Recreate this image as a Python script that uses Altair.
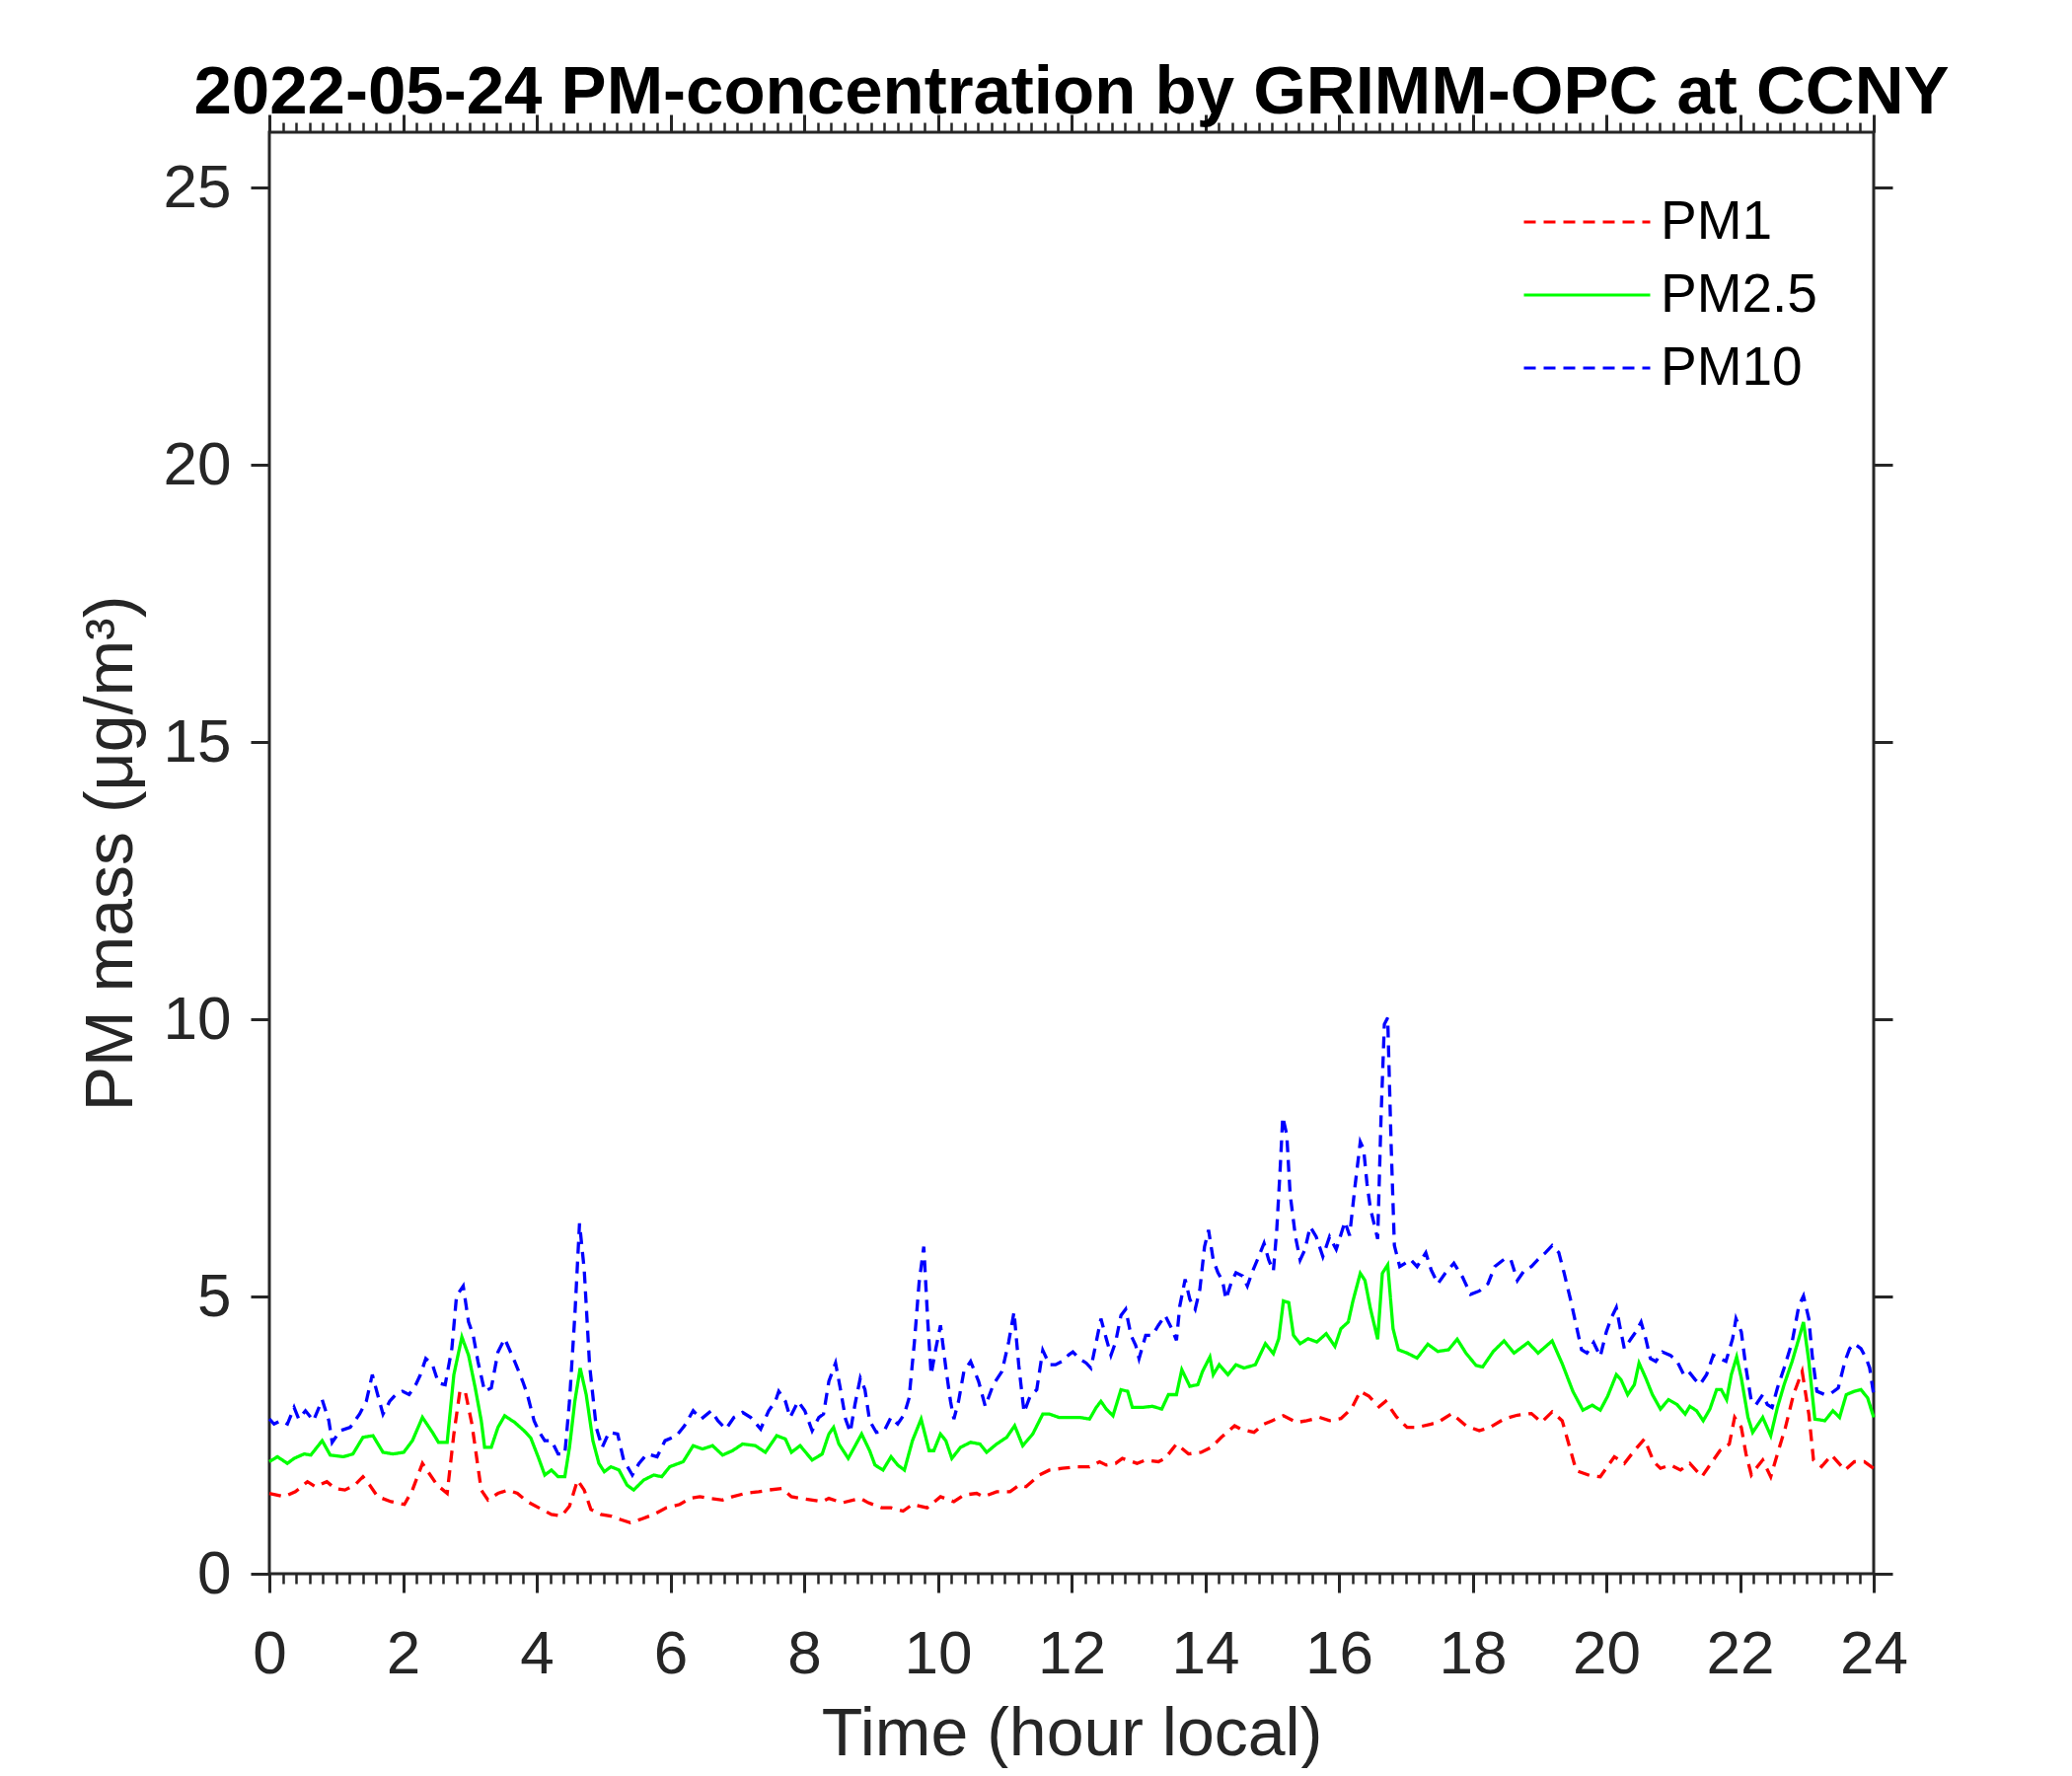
import altair as alt
import pandas as pd

# ---------------- data ----------------
pm1_hours = [0.00, 0.22, 0.39, 0.57, 0.69, 0.86, 0.98, 1.13, 1.28, 1.40, 1.50, 1.62, 1.82, 2.02, 2.14, 2.29,
             2.39, 2.51, 2.66, 2.76, 2.85, 2.93, 3.03, 3.17, 3.27, 3.42, 3.57, 3.71, 3.86, 4.03, 4.22, 4.37,
             4.49, 4.61, 4.71, 4.81, 4.96, 5.11, 5.25, 5.40, 5.55, 5.75, 5.94, 6.14, 6.29, 6.44, 6.58, 6.78,
             6.93, 7.12, 7.32, 7.47, 7.67, 7.81, 7.96, 8.27, 8.37, 8.57, 8.84, 8.96, 9.16, 9.30, 9.48, 9.62,
             9.84, 10.04, 10.24, 10.39, 10.58, 10.68, 10.88, 11.08, 11.22, 11.32, 11.52, 11.67, 11.86, 12.07,
             12.27, 12.42, 12.52, 12.66, 12.76, 12.98, 13.11, 13.30, 13.40, 13.57, 13.75, 13.94, 14.09, 14.24,
             14.44, 14.53, 14.73, 14.88, 15.00, 15.17, 15.37, 15.52, 15.71, 15.86, 16.03, 16.19, 16.32, 16.45,
             16.60, 16.70, 16.86, 17.02, 17.17, 17.38, 17.48, 17.69, 17.90, 18.10, 18.26, 18.47, 18.67, 18.88,
             19.03, 19.19, 19.34, 19.45, 19.55, 19.76, 19.91, 20.12, 20.27, 20.42, 20.57, 20.71, 20.81, 20.96,
             21.11, 21.25, 21.43, 21.55, 21.70, 21.84, 21.92, 22.02, 22.09, 22.17, 22.26, 22.34, 22.46, 22.56,
             22.68, 22.80, 22.93, 23.03, 23.10, 23.22, 23.37, 23.57, 23.71, 23.86, 24.00]
pm1_values = [1.45, 1.39, 1.48, 1.66, 1.57, 1.66, 1.54, 1.51, 1.60, 1.75, 1.60, 1.39, 1.30, 1.25, 1.51, 1.99,
              1.81, 1.60, 1.45, 2.52, 3.29, 3.29, 2.70, 1.51, 1.33, 1.45, 1.51, 1.45, 1.30, 1.19, 1.07, 1.04,
              1.22, 1.69, 1.51, 1.16, 1.07, 1.04, 0.98, 0.92, 0.98, 1.07, 1.19, 1.25, 1.36, 1.39, 1.36, 1.33,
              1.39, 1.45, 1.48, 1.51, 1.54, 1.39, 1.36, 1.30, 1.36, 1.28, 1.36, 1.28, 1.19, 1.19, 1.13, 1.25,
              1.19, 1.39, 1.30, 1.42, 1.45, 1.39, 1.48, 1.48, 1.60, 1.57, 1.78, 1.87, 1.90, 1.93,
              1.93, 2.02, 1.96, 1.99, 2.08, 1.99, 2.05, 2.02, 2.08, 2.34, 2.16, 2.19, 2.28, 2.46,
              2.67, 2.61, 2.55, 2.70, 2.76, 2.85, 2.73, 2.76, 2.82, 2.76, 2.80, 2.98, 3.29, 3.20,
              3.01, 3.11, 2.83, 2.64, 2.64, 2.70, 2.73, 2.89, 2.67, 2.58, 2.64, 2.79, 2.86, 2.89,
              2.73, 2.92, 2.76, 2.29, 1.86, 1.77, 1.75, 2.11, 1.99, 2.22, 2.43, 2.02, 1.90, 1.96,
              1.87, 1.99, 1.75, 1.96, 2.22, 2.34, 2.82, 2.64, 2.16, 1.78, 1.93, 2.05, 1.75, 2.16,
              2.64, 3.23, 3.65, 2.88, 2.05, 1.93, 2.14, 1.87, 2.02, 2.02, 1.90]

pm25_hours = [0.00, 0.12, 0.27, 0.37, 0.52, 0.62, 0.79, 0.91, 1.11, 1.25, 1.40, 1.55, 1.70, 1.85, 2.01, 2.14,
              2.29, 2.44, 2.53, 2.66, 2.76, 2.88, 2.98, 3.08, 3.17, 3.22, 3.32, 3.42, 3.52, 3.67, 3.81, 3.91,
              4.02, 4.12, 4.22, 4.32, 4.42, 4.49, 4.57, 4.65, 4.74, 4.84, 4.93, 5.01, 5.11, 5.23, 5.35, 5.45,
              5.60, 5.75, 5.87, 5.99, 6.19, 6.34, 6.48, 6.63, 6.78, 6.93, 7.08, 7.27, 7.42, 7.59, 7.72, 7.81,
              7.94, 8.12, 8.27, 8.37, 8.44, 8.52, 8.66, 8.86, 8.98, 9.06, 9.18, 9.30, 9.40, 9.50, 9.62, 9.75,
              9.87, 9.94, 10.04, 10.12, 10.21, 10.34, 10.49, 10.63, 10.73, 10.88, 11.03, 11.15, 11.27, 11.42,
              11.57, 11.67, 11.81, 11.96, 12.12, 12.27, 12.37, 12.44, 12.52, 12.62, 12.74, 12.84, 12.91, 13.06,
              13.21, 13.35, 13.45, 13.57, 13.65, 13.77, 13.89, 13.96, 14.07, 14.12, 14.21, 14.34, 14.46, 14.58,
              14.75, 14.90, 15.02, 15.10, 15.17, 15.25, 15.32, 15.42, 15.54, 15.67, 15.81, 15.94, 16.03, 16.14,
              16.21, 16.32, 16.39, 16.47, 16.58, 16.65, 16.73, 16.81, 16.89, 17.02, 17.17, 17.33, 17.48, 17.64,
              17.77, 17.90, 18.05, 18.15, 18.31, 18.47, 18.62, 18.83, 18.98, 19.19, 19.34, 19.50, 19.65, 19.79,
              19.91, 20.02, 20.15, 20.22, 20.32, 20.42, 20.49, 20.59, 20.69, 20.81, 20.93, 21.06, 21.18, 21.25,
              21.35, 21.45, 21.55, 21.65, 21.72, 21.80, 21.87, 21.95, 22.02, 22.12, 22.19, 22.34, 22.46, 22.56,
              22.66, 22.78, 22.88, 22.95, 23.03, 23.12, 23.27, 23.39, 23.49, 23.59, 23.71, 23.81, 23.91, 24.00]
pm25_values = [2.02, 2.11, 1.99, 2.08, 2.16, 2.14, 2.40, 2.14, 2.11, 2.16, 2.46, 2.49, 2.19, 2.16, 2.19, 2.40,
               2.82, 2.55, 2.37, 2.37, 3.59, 4.27, 3.94, 3.35, 2.76, 2.28, 2.28, 2.64, 2.85, 2.73, 2.58, 2.45,
               2.11, 1.78, 1.87, 1.75, 1.75, 2.28, 3.11, 3.71, 3.23, 2.40, 1.99, 1.84, 1.93, 1.87, 1.60, 1.51,
               1.69, 1.78, 1.75, 1.93, 2.02, 2.31, 2.25, 2.31, 2.14, 2.22, 2.34, 2.31, 2.19, 2.49, 2.43, 2.19,
               2.31, 2.05, 2.16, 2.52, 2.64, 2.34, 2.08, 2.52, 2.22, 1.96, 1.87, 2.11, 1.96, 1.87, 2.40, 2.79,
               2.22, 2.22, 2.52, 2.40, 2.08, 2.28, 2.37, 2.34, 2.19, 2.34, 2.46, 2.67, 2.31, 2.52,
               2.88, 2.88, 2.82, 2.82, 2.82, 2.79, 3.00, 3.11, 2.97, 2.85, 3.32, 3.29, 3.00, 3.00,
               3.02, 2.97, 3.23, 3.23, 3.68, 3.38, 3.41, 3.65, 3.91, 3.59, 3.77, 3.59, 3.77, 3.71,
               3.77, 4.15, 3.97, 4.24, 4.92, 4.89, 4.30, 4.15, 4.24, 4.18, 4.33, 4.10, 4.42, 4.54,
               4.92, 5.42, 5.29, 4.79, 4.23, 5.42, 5.57, 4.42, 4.04, 3.98, 3.89, 4.14, 4.01, 4.04,
               4.23, 3.98, 3.76, 3.73, 4.01, 4.20, 3.98, 4.17, 3.98, 4.20, 3.79, 3.29, 2.95, 3.04,
               2.95, 3.20, 3.59, 3.50, 3.23, 3.41, 3.80, 3.53, 3.23, 2.97, 3.14, 3.05, 2.88, 3.02,
               2.94, 2.76, 2.97, 3.32, 3.32, 3.14, 3.59, 3.91, 3.53, 2.82, 2.55, 2.82, 2.49, 3.00,
               3.41, 3.83, 4.24, 4.54, 3.83, 2.79, 2.76, 2.94, 2.82, 3.23, 3.29, 3.32, 3.17, 2.82]

pm10_hours = [0.00, 0.07, 0.17, 0.27, 0.37, 0.44, 0.54, 0.66, 0.79, 0.89, 0.94, 1.06, 1.21, 1.35, 1.45, 1.54,
              1.62, 1.70, 1.80, 1.89, 1.99, 2.09, 2.19, 2.26, 2.34, 2.44, 2.53, 2.63, 2.73, 2.80, 2.90, 2.98,
              3.05, 3.12, 3.22, 3.32, 3.42, 3.52, 3.67, 3.79, 3.86, 3.96, 4.04, 4.12, 4.22, 4.32, 4.42, 4.49,
              4.57, 4.64, 4.71, 4.79, 4.89, 4.98, 5.08, 5.21, 5.30, 5.43, 5.53, 5.65, 5.80, 5.92, 6.09, 6.21,
              6.34, 6.46, 6.61, 6.71, 6.83, 6.95, 7.08, 7.20, 7.35, 7.47, 7.57, 7.62, 7.72, 7.79, 7.91, 8.01,
              8.12, 8.22, 8.29, 8.37, 8.47, 8.54, 8.62, 8.69, 8.76, 8.84, 8.91, 8.98, 9.08, 9.20, 9.30, 9.40,
              9.50, 9.57, 9.65, 9.72, 9.79, 9.85, 9.90, 9.97, 10.04, 10.12, 10.19, 10.24, 10.31, 10.39, 10.49,
              10.61, 10.71, 10.83, 10.96, 11.06, 11.14, 11.21, 11.29, 11.38, 11.48, 11.57, 11.67, 11.76, 11.86,
              11.96, 12.02, 12.12, 12.22, 12.29, 12.37, 12.44, 12.52, 12.59, 12.66, 12.74, 12.81, 12.89, 12.96,
              13.01, 13.11, 13.21, 13.30, 13.40, 13.50, 13.57, 13.62, 13.70, 13.77, 13.85, 13.92, 13.99, 14.05,
              14.12, 14.19, 14.26, 14.31, 14.39, 14.46, 14.56, 14.63, 14.70, 14.80, 14.88, 14.95, 15.02, 15.07,
              15.12, 15.16, 15.22, 15.27, 15.35, 15.42, 15.49, 15.57, 15.66, 15.76, 15.86, 15.96, 16.01, 16.09,
              16.16, 16.24, 16.32, 16.37, 16.42, 16.47, 16.53, 16.58, 16.63, 16.68, 16.73, 16.78, 16.83, 16.91,
              16.99, 17.07, 17.17, 17.30, 17.38, 17.48, 17.59, 17.72, 17.85, 17.97, 18.10, 18.23, 18.33, 18.47,
              18.57, 18.67, 18.78, 18.88, 18.98, 19.09, 19.19, 19.29, 19.37, 19.47, 19.55, 19.63, 19.71, 19.81,
              19.91, 20.00, 20.07, 20.15, 20.20, 20.27, 20.37, 20.44, 20.52, 20.59, 20.66, 20.74, 20.84, 20.96,
              21.06, 21.16, 21.23, 21.33, 21.40, 21.50, 21.60, 21.70, 21.79, 21.89, 21.94, 22.02, 22.09, 22.17,
              22.24, 22.34, 22.41, 22.48, 22.56, 22.66, 22.78, 22.88, 22.95, 23.03, 23.08, 23.15, 23.27, 23.37,
              23.47, 23.57, 23.64, 23.71, 23.81, 23.89, 23.94, 24.00]
pm10_values = [2.79, 2.70, 2.76, 2.70, 3.00, 2.79, 2.94, 2.76, 3.14, 2.76, 2.37, 2.58, 2.64, 2.88, 3.11, 3.59,
               3.23, 2.88, 3.11, 3.23, 3.29, 3.23, 3.41, 3.59, 3.88, 3.77, 3.44, 3.41, 4.06, 5.01, 5.19, 4.54,
               4.30, 3.83, 3.29, 3.35, 4.00, 4.24, 3.83, 3.47, 3.23, 2.76, 2.55, 2.40, 2.40, 2.16, 2.16, 3.11,
               4.66, 6.32, 5.49, 3.77, 2.64, 2.28, 2.55, 2.52, 2.05, 1.78, 1.99, 2.16, 2.11, 2.40, 2.49, 2.67,
               2.94, 2.79, 2.94, 2.76, 2.61, 2.82, 2.91, 2.82, 2.61, 2.94, 3.11, 3.29, 3.11, 2.82, 3.11, 2.94,
               2.58, 2.82, 2.88, 3.47, 3.80, 3.35, 2.79, 2.55, 3.05, 3.53, 3.32, 2.76, 2.55, 2.58, 2.82, 2.70,
               2.88, 3.17, 4.18, 5.25, 5.90, 4.54, 3.59, 4.06, 4.48, 3.71, 3.11, 2.79, 3.11, 3.65, 3.83,
               3.47, 3.02, 3.41, 3.65, 4.18, 4.72, 3.77, 2.91, 3.20, 3.32, 4.03, 3.77, 3.77, 3.83,
               3.95, 4.00, 3.88, 3.80, 3.71, 4.18, 4.60, 4.24, 3.94, 4.18, 4.66, 4.77, 4.30, 4.12,
               3.88, 4.30, 4.30, 4.48, 4.66, 4.42, 4.21, 4.83, 5.31, 4.95, 4.77, 5.13, 5.90, 6.20,
               5.66, 5.43, 5.28, 4.95, 5.25, 5.43, 5.37, 5.19, 5.43, 5.72, 5.96, 5.66, 5.46, 6.20,
               7.27, 8.24, 7.92, 6.85, 6.08, 5.66, 5.84, 6.26, 6.08, 5.72, 6.08, 5.85, 6.04, 6.35,
               6.10, 6.98, 7.79, 7.66, 7.04, 6.60, 6.29, 6.04, 8.22, 9.91, 10.03, 7.79, 5.92, 5.54,
               5.60, 5.67, 5.54, 5.79, 5.48, 5.23, 5.42, 5.60, 5.35, 5.04, 5.10, 5.23, 5.54, 5.67,
               5.67, 5.29, 5.48, 5.54, 5.67, 5.79, 5.92, 5.79, 5.42, 4.92, 4.48, 4.04, 3.98, 4.17,
               3.92, 4.36, 4.60, 4.80, 4.48, 4.06, 4.24, 4.36, 4.54, 4.24, 3.88, 3.83, 4.00, 3.94,
               3.83, 3.59, 3.65, 3.50, 3.41, 3.59, 3.94, 3.88, 3.83, 4.24, 4.60, 4.36, 3.71, 3.11,
               3.05, 3.23, 3.05, 3.00, 3.35, 3.71, 4.18, 4.83, 5.01, 4.60, 3.94, 3.29, 3.23, 3.26,
               3.35, 3.83, 4.06, 4.15, 4.06, 3.88, 3.71, 3.23]

series_names = ["PM1", "PM2.5", "PM10"]
series_colors = ["#ff0000", "#00ff00", "#0000ff"]
series_dashes = [[12, 8], [1, 0], [12, 8]]

x_major_ticks = list(range(0, 25, 2))
x_minor_ticks = [round(i * 0.2, 1) for i in range(121)]
y_ticks = [0, 5, 10, 15, 20, 25]

title_text = "2022-05-24 PM-concentration by GRIMM-OPC at CCNY"
x_title = "Time (hour local)"
y_title = "PM mass (\u03bcg/m\u00b3)"

# ---------------- build table ----------------
rows = []
for name, hs, vs in zip(series_names, [pm1_hours, pm25_hours, pm10_hours],
                        [pm1_values, pm25_values, pm10_values]):
    for h, v in zip(hs, vs):
        rows.append({"hour": h, "value": v, "series": name})
df = pd.DataFrame(rows)

FONT = "Liberation Sans"
AX = "#262626"

x_scale = alt.Scale(domain=[0, 24], nice=False, zero=False)
y_scale = alt.Scale(domain=[0, 26], nice=False)

legend = alt.Legend(
    orient="none", legendX=1270, legendY=54, title=None,
    symbolType="stroke", symbolSize=128 * 128, symbolStrokeWidth=3,
    clipHeight=74, labelOffset=9, padding=0, rowPadding=0,
    labelFont=FONT, labelFontSize=55, labelColor="black",
)

color_enc = alt.Color("series:N", scale=alt.Scale(domain=series_names, range=series_colors),
                      legend=legend, sort=series_names)
dash_enc = alt.StrokeDash("series:N", scale=alt.Scale(domain=series_names, range=series_dashes),
                          legend=legend, sort=series_names)

base = alt.Chart(df)

lines = base.mark_line(strokeWidth=3.3).encode(
    x=alt.X("hour:Q", scale=x_scale, axis=alt.Axis(
        orient="bottom", values=x_major_ticks, format="d", tickSize=19, tickWidth=3,
        tickColor=AX, domain=False, grid=False, labelFont=FONT, labelFontSize=62,
        labelColor=AX, labelPadding=32, labelFlush=False, labelOverlap=False,
        title=x_title, titleFont=FONT, titleFontSize=68,
        titleFontWeight="normal", titleColor=AX, titlePadding=17)),
    y=alt.Y("value:Q", scale=y_scale, axis=alt.Axis(
        orient="left", values=y_ticks, format="d", tickSize=19, tickWidth=3,
        tickColor=AX, domain=False, grid=False, labelFont=FONT, labelFontSize=62,
        labelColor=AX, labelPadding=20, labelFlush=False, labelOverlap=False,
        title=y_title, titleFont=FONT, titleFontSize=68,
        titleFontWeight="normal", titleColor=AX, titlePadding=18)),
    color=color_enc,
    strokeDash=dash_enc,
    detail="series:N",
)

top_major = base.mark_line(strokeOpacity=0).encode(
    x=alt.X("hour:Q", scale=x_scale, axis=alt.Axis(
        orient="top", values=x_major_ticks, labels=False, tickSize=18, tickWidth=3,
        tickColor=AX, domain=False, grid=False, title=None)),
    y=alt.Y("value:Q", scale=y_scale, axis=alt.Axis(
        orient="right", values=y_ticks, labels=False, tickSize=19, tickWidth=3,
        tickColor=AX, domain=False, grid=False, title=None)),
    detail="series:N",
)

bottom_minor = base.mark_line(strokeOpacity=0).encode(
    x=alt.X("hour:Q", scale=x_scale, axis=alt.Axis(
        orient="bottom", values=x_minor_ticks, labels=False, tickSize=10, tickWidth=2.5,
        tickColor=AX, domain=False, grid=False, title=None)),
    y=alt.Y("value:Q", scale=y_scale, axis=None),
    detail="series:N",
)

top_minor = base.mark_line(strokeOpacity=0).encode(
    x=alt.X("hour:Q", scale=x_scale, axis=alt.Axis(
        orient="top", values=x_minor_ticks, labels=False, tickSize=10, tickWidth=2.5,
        tickColor=AX, domain=False, grid=False, title=None)),
    y=alt.Y("value:Q", scale=y_scale, axis=None),
    detail="series:N",
)

chart = alt.layer(lines, top_major, bottom_minor, top_minor).resolve_axis(
    x="independent", y="independent"
).properties(
    width=1626, height=1461,
    autosize="none",
    padding={"left": 265, "top": 126, "right": 193, "bottom": 197},
    title=alt.Title(title_text, font=FONT, fontSize=69, fontWeight="bold", color="black",
                    anchor="middle", frame="group", offset=-14),
).configure_view(stroke=AX, strokeWidth=3)

chart.save("out.html", embed_options={"renderer": "svg", "actions": False})
